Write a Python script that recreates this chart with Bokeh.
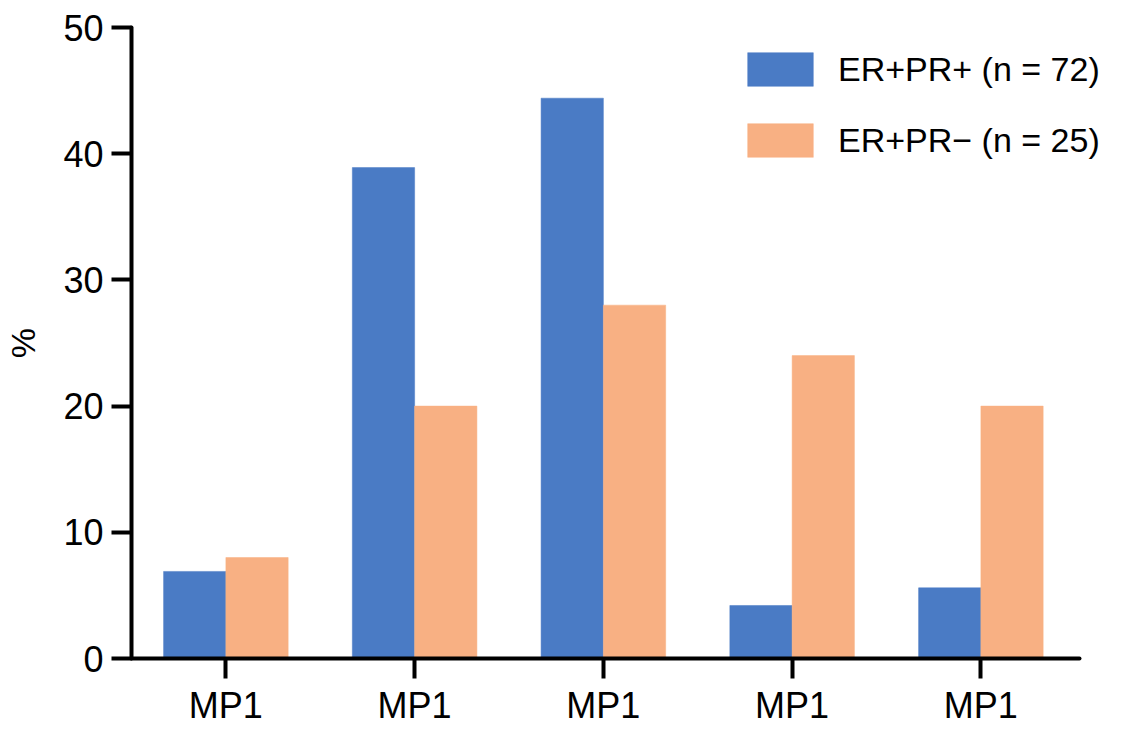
from bokeh.plotting import figure
from bokeh.models import FixedTicker, Legend, LegendItem, ColumnDataSource
from bokeh.embed import file_html
from bokeh.resources import INLINE

categories = ["MP1", "MP1", "MP1", "MP1", "MP1"]
series_names = ["ER+PR+ (n = 72)", "ER+PR\u2212 (n = 25)"]
er_pr_pos = [6.9, 38.9, 44.4, 4.2, 5.6]
er_pr_neg = [8.0, 20.0, 28.0, 24.0, 20.0]
y_ticks = [0, 10, 20, 30, 40, 50]

BLUE = "#4a7bc5"
ORANGE = "#f8b083"
FONT = "Liberation Sans"

positions = list(range(1, len(categories) + 1))
bar_w = 0.33

p = figure(width=1113, height=728, output_backend="svg", toolbar_location=None,
           x_range=(0.5, 5.7026), y_range=(0, 50),
           min_border_left=131, min_border_right=0, min_border_top=27, min_border_bottom=68)
p.outline_line_color = None
p.xgrid.visible = False
p.ygrid.visible = False

src = ColumnDataSource(dict(
    xb=[x - bar_w / 2 for x in positions],
    xo=[x + bar_w / 2 for x in positions],
    pos=er_pr_pos, neg=er_pr_neg))

r1 = p.vbar(x="xb", top="pos", bottom=0, width=bar_w, source=src,
            fill_color=BLUE, line_color=BLUE, line_width=0.5)
r2 = p.vbar(x="xo", top="neg", bottom=0, width=bar_w, source=src,
            fill_color=ORANGE, line_color=ORANGE, line_width=0.5)

legend = Legend(items=[LegendItem(label=series_names[0], renderers=[r1]),
                       LegendItem(label=series_names[1], renderers=[r2])],
                location=(608, 497), padding=0, margin=0, spacing=29,
                glyph_width=82, glyph_height=42, label_standoff=17,
                label_text_font=FONT, label_text_font_size="34px",
                label_text_color="black",
                border_line_color=None, background_fill_alpha=0)
p.add_layout(legend, "center")

for ax in (p.xaxis[0], p.yaxis[0]):
    ax.axis_line_width = 4
    ax.axis_line_color = "black"
    ax.axis_line_cap = "round"
    ax.major_tick_line_width = 4
    ax.major_tick_line_color = "black"
    ax.major_tick_in = 0
    ax.major_tick_out = 20
    ax.minor_tick_line_color = None
    ax.major_label_text_font = FONT
    ax.major_label_text_font_size = "36px"
    ax.major_label_text_color = "black"

p.xaxis[0].ticker = FixedTicker(ticks=positions)
p.xaxis[0].bounds = (0.5, 5.52)
p.xaxis[0].major_label_overrides = {x: c for x, c in zip(positions, categories)}
p.xaxis[0].major_label_standoff = 6

p.yaxis[0].ticker = FixedTicker(ticks=y_ticks)
p.yaxis[0].major_label_standoff = 8
p.yaxis[0].axis_label = "%"
p.yaxis[0].axis_label_text_font = FONT
p.yaxis[0].axis_label_text_font_size = "34px"
p.yaxis[0].axis_label_text_font_style = "normal"
p.yaxis[0].axis_label_text_color = "black"
p.yaxis[0].axis_label_standoff = 18

open("out.html", "w").write(file_html(p, INLINE))
